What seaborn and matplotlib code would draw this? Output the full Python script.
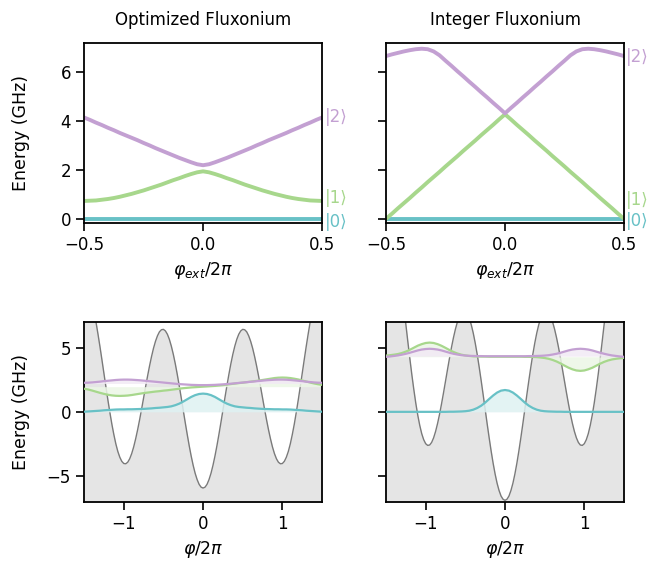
import numpy as np
import matplotlib
matplotlib.use('Agg')
import matplotlib.pyplot as plt
import seaborn as sns
from matplotlib.colors import to_rgb

# --- spectra vs external flux (top row) ---
phi_ext = np.linspace(-0.5, 0.5, 41)

e0_opt = [0.0] * 41
e1_opt = [0.75, 0.76, 0.77, 0.80, 0.83, 0.87, 0.92, 0.98, 1.04, 1.11,
          1.18, 1.26, 1.34, 1.42, 1.51, 1.60, 1.68, 1.77, 1.85, 1.92,
          1.96,
          1.92, 1.85, 1.77, 1.68, 1.60, 1.51, 1.42, 1.34, 1.26, 1.18,
          1.11, 1.04, 0.98, 0.92, 0.87, 0.83, 0.80, 0.77, 0.76, 0.75]
e2_opt = [4.16, 4.06, 3.95, 3.85, 3.74, 3.64, 3.53, 3.43, 3.33, 3.23,
          3.12, 3.02, 2.91, 2.81, 2.71, 2.61, 2.51, 2.42, 2.33, 2.25,
          2.21,
          2.25, 2.33, 2.42, 2.51, 2.61, 2.71, 2.81, 2.91, 3.02, 3.12,
          3.23, 3.33, 3.43, 3.53, 3.64, 3.74, 3.85, 3.95, 4.06, 4.16]

e0_int = [0.0] * 41
e1_int = [0.02, 0.23, 0.45, 0.66, 0.87, 1.09, 1.30, 1.52, 1.73, 1.94,
          2.16, 2.37, 2.58, 2.80, 3.01, 3.22, 3.44, 3.65, 3.86, 4.08,
          4.29,
          4.08, 3.86, 3.65, 3.44, 3.22, 3.01, 2.80, 2.58, 2.37, 2.16,
          1.94, 1.73, 1.52, 1.30, 1.09, 0.87, 0.66, 0.45, 0.23, 0.02]
e2_int = [6.67, 6.74, 6.80, 6.86, 6.91, 6.95, 6.97, 6.95, 6.86, 6.70,
          6.48, 6.27, 6.05, 5.84, 5.62, 5.41, 5.19, 4.98, 4.76, 4.55,
          4.33,
          4.55, 4.76, 4.98, 5.19, 5.41, 5.62, 5.84, 6.05, 6.27, 6.48,
          6.70, 6.86, 6.95, 6.97, 6.95, 6.91, 6.86, 6.80, 6.74, 6.67]

# label heights next to the right spine
label_y_opt = [-0.10, 0.86, 4.19]
label_y_int = [-0.06, 0.79, 6.64]
state_labels = ['|0⟩', '|1⟩', '|2⟩']

# --- potentials at phi_ext = 0 (bottom row) ---
phi_pot = np.linspace(-1.5, 1.5, 121)

pot_opt = [10.24, 10.02, 9.67, 9.17, 8.55, 7.81, 6.98, 6.05, 5.07, 4.04,
           2.99, 1.94, 0.92, -0.05, -0.96, -1.77, -2.49, -3.08, -3.53, -3.85,
           -4.02, -4.04, -3.92, -3.65, -3.25, -2.73, -2.10, -1.39, -0.61, 0.22,
           1.08, 1.94, 2.78, 3.57, 4.30, 4.95, 5.49, 5.92, 6.23, 6.39,
           6.42, 6.30, 6.04, 5.64, 5.11, 4.47, 3.73, 2.90, 2.01, 1.08,
           0.12, -0.83, -1.75, -2.63, -3.44, -4.16, -4.78, -5.27, -5.64, -5.86,
           -5.93,
           -5.86, -5.64, -5.27, -4.78, -4.16, -3.44, -2.63, -1.75, -0.83, 0.12,
           1.08, 2.01, 2.90, 3.73, 4.47, 5.11, 5.64, 6.04, 6.30, 6.42,
           6.39, 6.23, 5.92, 5.49, 4.95, 4.30, 3.57, 2.78, 1.94, 1.08,
           0.22, -0.61, -1.39, -2.10, -2.73, -3.25, -3.65, -3.92, -4.04, -4.02,
           -3.85, -3.53, -3.08, -2.49, -1.77, -0.96, -0.05, 0.92, 1.94, 2.99,
           4.04, 5.07, 6.05, 6.98, 7.81, 8.55, 9.17, 9.67, 10.02, 10.24]

pot_int = [16.63, 16.22, 15.65, 14.92, 14.06, 13.06, 11.94, 10.74, 9.46, 8.14,
           6.80, 5.46, 4.16, 2.91, 1.75, 0.68, -0.26, -1.05, -1.70, -2.17,
           -2.48, -2.61, -2.58, -2.38, -2.02, -1.52, -0.90, -0.18, 0.63, 1.49,
           2.39, 3.29, 4.17, 5.01, 5.77, 6.44, 7.00, 7.43, 7.71, 7.84,
           7.81, 7.62, 7.27, 6.77, 6.12, 5.34, 4.45, 3.46, 2.41, 1.31,
           0.19, -0.93, -2.01, -3.04, -3.99, -4.83, -5.55, -6.12, -6.55, -6.80,
           -6.89,
           -6.80, -6.55, -6.12, -5.55, -4.83, -3.99, -3.04, -2.01, -0.93, 0.19,
           1.31, 2.41, 3.46, 4.45, 5.34, 6.12, 6.77, 7.27, 7.62, 7.81,
           7.84, 7.71, 7.43, 7.00, 6.44, 5.77, 5.01, 4.17, 3.29, 2.39,
           1.49, 0.63, -0.18, -0.90, -1.52, -2.02, -2.38, -2.58, -2.61, -2.48,
           -2.17, -1.70, -1.05, -0.26, 0.68, 1.75, 2.91, 4.16, 5.46, 6.80,
           8.14, 9.46, 10.74, 11.94, 13.06, 14.06, 14.92, 15.65, 16.22, 16.63]

# --- wavefunctions drawn at their energies ---
phi = np.linspace(-1.5, 1.5, 61)

psi0_opt = [0.01, 0.03, 0.05, 0.07, 0.09, 0.12, 0.14, 0.16, 0.18, 0.19,
            0.19, 0.20, 0.20, 0.21, 0.22, 0.23, 0.25, 0.27, 0.30, 0.32,
            0.35, 0.38, 0.43, 0.52, 0.64, 0.80, 0.98, 1.16, 1.30, 1.39,
            1.42,
            1.39, 1.30, 1.16, 0.98, 0.80, 0.64, 0.52, 0.43, 0.38, 0.35,
            0.32, 0.30, 0.27, 0.25, 0.23, 0.22, 0.21, 0.20, 0.20, 0.19,
            0.19, 0.18, 0.16, 0.14, 0.12, 0.09, 0.07, 0.05, 0.03, 0.01]
psi1_opt = [1.80, 1.74, 1.66, 1.57, 1.48, 1.40, 1.33, 1.28, 1.25, 1.24,
            1.25, 1.27, 1.31, 1.36, 1.41, 1.46, 1.50, 1.54, 1.58, 1.61,
            1.65, 1.68, 1.72, 1.76, 1.80, 1.84, 1.87, 1.90, 1.92, 1.94,
            1.96,
            1.98, 2.00, 2.02, 2.05, 2.08, 2.12, 2.16, 2.20, 2.24, 2.27,
            2.31, 2.35, 2.39, 2.43, 2.48, 2.53, 2.58, 2.63, 2.66, 2.67,
            2.66, 2.63, 2.58, 2.52, 2.44, 2.36, 2.28, 2.21, 2.15, 2.10]
psi2_opt = [2.26, 2.27, 2.29, 2.32, 2.35, 2.39, 2.42, 2.45, 2.48, 2.50,
            2.51, 2.51, 2.50, 2.48, 2.46, 2.43, 2.40, 2.37, 2.34, 2.31,
            2.28, 2.25, 2.22, 2.19, 2.16, 2.14, 2.12, 2.10, 2.09, 2.08,
            2.08,
            2.08, 2.09, 2.10, 2.12, 2.14, 2.16, 2.19, 2.22, 2.25, 2.28,
            2.31, 2.34, 2.37, 2.40, 2.43, 2.46, 2.48, 2.50, 2.51, 2.51,
            2.50, 2.48, 2.45, 2.42, 2.39, 2.35, 2.32, 2.29, 2.27, 2.26]

psi0_int = [0.0, 0.0, 0.0, 0.0, 0.0, 0.0, 0.0, 0.0, 0.0, 0.0,
            0.0, 0.0, 0.0, 0.0, 0.0, 0.0, 0.01, 0.01, 0.02, 0.03,
            0.05, 0.09, 0.17, 0.30, 0.48, 0.72, 1.00, 1.27, 1.50, 1.65,
            1.70,
            1.65, 1.50, 1.27, 1.00, 0.72, 0.48, 0.30, 0.17, 0.09, 0.05,
            0.03, 0.02, 0.01, 0.01, 0.0, 0.0, 0.0, 0.0, 0.0, 0.0,
            0.0, 0.0, 0.0, 0.0, 0.0, 0.0, 0.0, 0.0, 0.0, 0.0]
psi1_int = [4.38, 4.41, 4.45, 4.50, 4.58, 4.69, 4.83, 4.99, 5.15, 5.27,
            5.36, 5.39, 5.36, 5.27, 5.14, 4.98, 4.81, 4.66, 4.54, 4.45,
            4.39, 4.35, 4.32, 4.31, 4.30, 4.30, 4.29, 4.29, 4.29, 4.29,
            4.29,
            4.29, 4.29, 4.29, 4.29, 4.28, 4.28, 4.27, 4.26, 4.23, 4.19,
            4.13, 4.04, 3.92, 3.77, 3.60, 3.44, 3.31, 3.22, 3.19, 3.22,
            3.31, 3.43, 3.59, 3.75, 3.89, 4.00, 4.08, 4.13, 4.17, 4.20]
psi2_int = [4.28, 4.31, 4.35, 4.39, 4.45, 4.52, 4.60, 4.69, 4.78, 4.85,
            4.89, 4.91, 4.89, 4.85, 4.78, 4.69, 4.60, 4.52, 4.46, 4.41,
            4.38, 4.36, 4.35, 4.34, 4.34, 4.33, 4.33, 4.33, 4.33, 4.33,
            4.33,
            4.33, 4.33, 4.33, 4.33, 4.33, 4.34, 4.34, 4.35, 4.36, 4.38,
            4.41, 4.46, 4.52, 4.60, 4.69, 4.78, 4.85, 4.89, 4.91, 4.89,
            4.85, 4.78, 4.69, 4.60, 4.52, 4.45, 4.39, 4.35, 4.31, 4.28]

base_opt = [0.0, 1.96, 2.21]
base_int = [0.0, 4.29, 4.33]

colors = ['#68c1c6', '#a7d78c', '#c3a0d2']


def light(c, amount=0.22):
    r, g, b = to_rgb(c)
    return (1 - amount * (1 - r), 1 - amount * (1 - g), 1 - amount * (1 - b))


def plot_spectrum(ax, energies, label_y, title):
    for e, c in zip(energies, colors):
        sns.lineplot(x=phi_ext, y=e, ax=ax, color=c, lw=2.8)
    for y, lab, c in zip(label_y, state_labels, colors):
        ax.text(1.01, y, lab, color=c, fontsize=12, va='center', ha='left',
                transform=ax.get_yaxis_transform())
    ax.set_xlim(-0.5, 0.5)
    ax.set_xticks([-0.5, 0.0, 0.5])
    ax.set_xlabel(r'$\varphi_{ext}/2\pi$')
    ax.set_title(title, pad=13)


def plot_wavefunctions(ax, pot, psis, bases):
    ax.fill_between(phi_pot, -8, pot, color='#e5e5e5', lw=0, zorder=0)
    sns.lineplot(x=phi_pot, y=pot, ax=ax, color='#7a7a7a', lw=1.0, zorder=1)
    for psi, b, c in zip(psis, bases, colors):
        ax.fill_between(phi, b, psi, color=light(c), alpha=0.85, lw=0, zorder=2)
    for psi, c in zip(psis, colors):
        sns.lineplot(x=phi, y=psi, ax=ax, color=c, lw=1.6, zorder=3)
    ax.set_xlim(-1.5, 1.5)
    ax.set_ylim(-7, 7)
    ax.set_xticks([-1, 0, 1])
    ax.set_xlabel(r'$\varphi/2\pi$')


sns.set_theme(style='ticks')
plt.rcParams.update({
    'font.family': ['DejaVu Sans'],
    'text.color': 'black',
    'axes.labelcolor': 'black',
    'xtick.color': 'black',
    'ytick.color': 'black',
    'axes.edgecolor': 'black',
    'axes.linewidth': 1.3,
    'xtick.major.size': 6,
    'ytick.major.size': 6,
    'xtick.major.width': 1.2,
    'ytick.major.width': 1.2,
    'xtick.labelsize': 12,
    'ytick.labelsize': 12,
    'axes.labelsize': 12.5,
    'axes.titlesize': 12,
})

fig, axes = plt.subplots(2, 2, figsize=(6.52, 5.67), dpi=100)
fig.subplots_adjust(left=0.129, right=0.957, top=0.924, bottom=0.115,
                    wspace=0.269, hspace=0.55)

ax_a, ax_b = axes[0]
ax_c, ax_d = axes[1]

plot_spectrum(ax_a, [e0_opt, e1_opt, e2_opt], label_y_opt, 'Optimized Fluxonium')
plot_spectrum(ax_b, [e0_int, e1_int, e2_int], label_y_int, 'Integer Fluxonium')
for ax in (ax_a, ax_b):
    ax.set_ylim(-0.15, 7.2)
    ax.set_yticks([0, 2, 4, 6])
ax_b.set_yticklabels([])

plot_wavefunctions(ax_c, pot_opt, [psi0_opt, psi1_opt, psi2_opt], base_opt)
plot_wavefunctions(ax_d, pot_int, [psi0_int, psi1_int, psi2_int], base_int)
ax_c.set_yticks([-5, 0, 5])
ax_d.set_yticks([-5, 0, 5])
ax_d.set_yticklabels([])

ax_a.set_ylabel('Energy (GHz)', labelpad=12)
ax_c.set_ylabel('Energy (GHz)', labelpad=12)
fig.align_ylabels([ax_a, ax_c])

for ax in axes.flat:
    for s in ax.spines.values():
        s.set_visible(True)

fig.savefig('out.png', dpi=100)
